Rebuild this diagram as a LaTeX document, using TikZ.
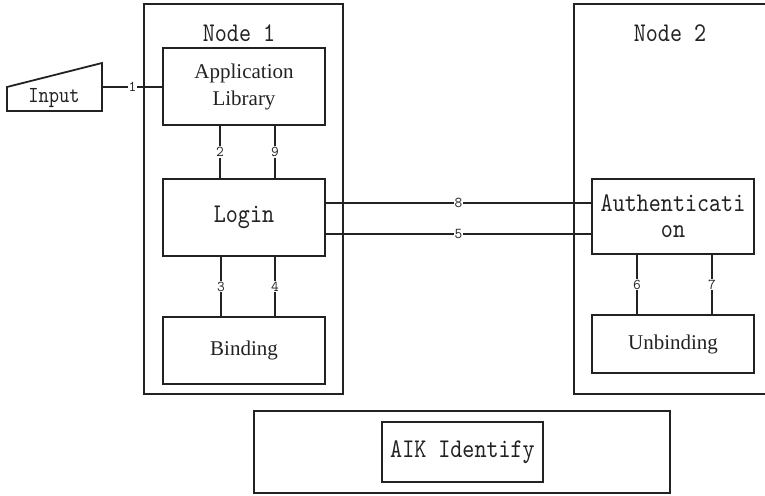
\documentclass[tikz,border=0pt]{standalone}
\usepackage{fontspec}
\setmainfont{Liberation Serif}
\newfontfamily\simmono{lmmono10-regular.otf}[FakeStretch=0.85]
\definecolor{ink}{HTML}{222222}
\begin{document}
\begin{tikzpicture}[x=1pt,y=-1pt,
  every node/.style={outer sep=0pt, text=ink},
  frame/.style={draw=ink, line width=2.2pt, inner sep=0pt},
  unit/.style={draw=ink, line width=1.8pt, inner sep=0pt, align=center},
  monotext/.style={font=\simmono\fontsize{27}{27}\selectfont},
  serftext/.style={font=\fontsize{21}{27}\selectfont},
  link/.style={draw=ink, line width=1.6pt},
  lbl/.style={font=\ttfamily\fontsize{15}{15}\selectfont, fill=white, inner sep=1pt}]
\useasboundingbox (0,0) rectangle (765,495);
\clip (0,0) rectangle (765,495);

% node containers
\node[frame, minimum width=199, minimum height=390] (n1) at (243.5,199) {};
\node[monotext] (n1t) at (239,33) {Node 1};
\node[frame, minimum width=200, minimum height=390] (n2) at (674,199) {};
\node[monotext] (n2t) at (670,33) {Node 2};

% components of node 1
\node[unit, serftext, minimum width=162, minimum height=77] (app) at (244,86.5) {Application\\Library};
\node[unit, monotext, minimum width=162, minimum height=77] (login) at (244,217.5) {Login};
\node[unit, serftext, minimum width=162, minimum height=67] (bind) at (244,350.5) {Binding};

% components of node 2
\node[unit, monotext, minimum width=162, minimum height=75, font=\simmono\fontsize{27}{26}\selectfont] (auth) at (673,216.5) {Authenticati\\on};
\node[unit, serftext, minimum width=162, minimum height=58] (unbind) at (673,344) {Unbinding};

% attestation block
\node[frame, minimum width=416, minimum height=82] (aik) at (462,452) {};
\node[unit, monotext, minimum width=161, minimum height=60] (aikt) at (462.5,452) {AIK Identify};

% input device
\draw[ink, line width=1.8pt, line join=miter] (7,111) -- (7,87) -- (102,63) -- (102,111) -- cycle;
\node[font=\simmono\fontsize{23}{23}\selectfont] (inp) at (54,98) {Input};
\coordinate (inR) at (102,87);

% connectors
\draw[link] (inR) -- (inR -| app.west) node[lbl, midway] {1};
\draw[link] ([xshift=-24]app.south) -- ([xshift=-24]login.north) node[lbl, midway] {2};
\draw[link] ([xshift=31]app.south) -- ([xshift=31]login.north) node[lbl, midway] {9};
\draw[link] ([xshift=-23]login.south) -- ([xshift=-23]bind.north) node[lbl, midway] {3};
\draw[link] ([xshift=31]login.south) -- ([xshift=31]bind.north) node[lbl, midway] {4};
\draw[link] ([yshift=14.5]login.east) -- ([yshift=14.5]login.east -| auth.west) node[lbl, midway] {8};
\draw[link] ([yshift=-16.5]login.east) -- ([yshift=-16.5]login.east -| auth.west) node[lbl, midway] {5};
\draw[link] ([xshift=-36]auth.south) -- ([xshift=-36]unbind.north) node[lbl, midway] {6};
\draw[link] ([xshift=39]auth.south) -- ([xshift=39]unbind.north) node[lbl, midway] {7};
\end{tikzpicture}
\end{document}
